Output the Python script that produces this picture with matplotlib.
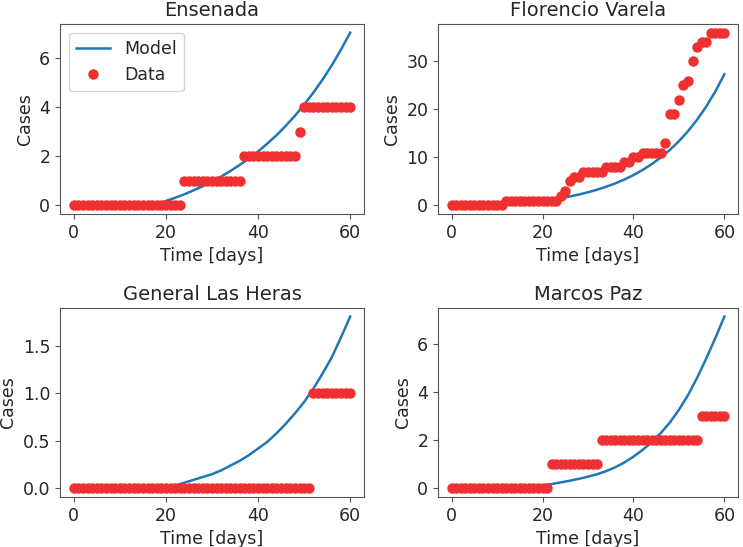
import numpy as np
import matplotlib
matplotlib.use("Agg")
import matplotlib.pyplot as plt

# days for the observed data and for the model curve
days = np.arange(0, 61)
model_days = np.arange(0, 61, 2)

titles = ["Ensenada", "Florencio Varela", "General Las Heras", "Marcos Paz"]

ensenada_data = [0, 0, 0, 0, 0, 0, 0, 0, 0, 0, 0, 0, 0, 0, 0, 0, 0, 0, 0, 0,
                 0, 0, 0, 0, 1, 1, 1, 1, 1, 1, 1, 1, 1, 1, 1, 1, 1, 2, 2, 2,
                 2, 2, 2, 2, 2, 2, 2, 2, 2, 3, 4, 4, 4, 4, 4, 4, 4, 4, 4, 4, 4]
florencio_data = [0, 0, 0, 0, 0, 0, 0, 0, 0, 0, 0, 0, 1, 1, 1, 1, 1, 1, 1, 1,
                  1, 1, 1, 1, 2, 3, 5, 6, 6, 7, 7, 7, 7, 7, 8, 8, 8, 8, 9, 9,
                  10, 10, 11, 11, 11, 11, 11, 13, 19, 19, 22, 25, 26, 30, 33, 34, 34, 36, 36, 36, 36]
heras_data = [0, 0, 0, 0, 0, 0, 0, 0, 0, 0, 0, 0, 0, 0, 0, 0, 0, 0, 0, 0,
              0, 0, 0, 0, 0, 0, 0, 0, 0, 0, 0, 0, 0, 0, 0, 0, 0, 0, 0, 0,
              0, 0, 0, 0, 0, 0, 0, 0, 0, 0, 0, 0, 1, 1, 1, 1, 1, 1, 1, 1, 1]
marcos_data = [0, 0, 0, 0, 0, 0, 0, 0, 0, 0, 0, 0, 0, 0, 0, 0, 0, 0, 0, 0,
               0, 0, 1, 1, 1, 1, 1, 1, 1, 1, 1, 1, 1, 2, 2, 2, 2, 2, 2, 2,
               2, 2, 2, 2, 2, 2, 2, 2, 2, 2, 2, 2, 2, 2, 2, 3, 3, 3, 3, 3, 3]

# model curves, every 2 days
ensenada_model = [0, 0, 0, 0, 0, 0, 0, 0, 0, 0.06, 0.18, 0.31, 0.45, 0.61, 0.78,
                  0.97, 1.17, 1.40, 1.64, 1.90, 2.19, 2.51, 2.85, 3.23, 3.64,
                  4.09, 4.58, 5.11, 5.69, 6.33, 7.02]
florencio_model = [0, 0, 0, 0, 0, 0, 0.14, 0.30, 0.48, 0.68, 0.92, 1.19, 1.50, 1.86,
                   2.26, 2.73, 3.27, 3.88, 4.58, 5.39, 6.31, 7.37, 8.58, 9.96,
                   11.55, 13.37, 15.46, 17.85, 20.59, 23.72, 27.31]
heras_model = [0, 0, 0, 0, 0, 0, 0, 0, 0, 0, 0.01, 0.03, 0.06, 0.09, 0.12, 0.15,
               0.19, 0.24, 0.29, 0.35, 0.42, 0.49, 0.58, 0.68, 0.79, 0.91,
               1.05, 1.21, 1.38, 1.59, 1.81]
marcos_model = [0, 0, 0, 0, 0, 0, 0, 0, 0, 0.05, 0.12, 0.18, 0.25, 0.32, 0.40,
                0.49, 0.59, 0.72, 0.88, 1.08, 1.32, 1.60, 1.92, 2.30, 2.74,
                3.27, 3.88, 4.60, 5.40, 6.25, 7.15]

data_sets = [ensenada_data, florencio_data, heras_data, marcos_data]
model_sets = [ensenada_model, florencio_model, heras_model, marcos_model]

plt.rcParams['font.family'] = ['DejaVu Sans']
plt.rcParams['text.color'] = '#262626'
plt.rcParams['axes.labelcolor'] = '#262626'
plt.rcParams['xtick.color'] = '#262626'
plt.rcParams['ytick.color'] = '#262626'
plt.rcParams['axes.edgecolor'] = '#555555'

W, H = 743, 547
fig = plt.figure(figsize=(W / 100, H / 100), dpi=100)

# axes rectangles in pixels: left, top, right, bottom
rects = [(60, 24, 364, 214), (438, 24, 738, 214),
         (60, 308, 364, 497), (438, 308, 738, 497)]

model_color = '#1f77b4'
data_color = '#ee3030'

for i, (l, t, r, b) in enumerate(rects):
    ax = fig.add_axes([l / W, 1 - b / H, (r - l) / W, (b - t) / H])
    ax.plot(model_days, model_sets[i], color=model_color, lw=1.8, label='Model')
    ax.plot(days, data_sets[i], 'o', color=data_color, ms=6.5, label='Data')
    ax.set_title(titles[i], fontsize=14)
    ax.set_xlabel('Time [days]', fontsize=12.5)
    ax.set_ylabel('Cases', fontsize=12.5)
    ax.set_xticks([0, 20, 40, 60])
    ax.tick_params(labelsize=12.5, color='#555555')
    if i == 0:
        ax.legend(loc='upper left', fontsize=12.5)

fig.savefig('out.png', dpi=100)
